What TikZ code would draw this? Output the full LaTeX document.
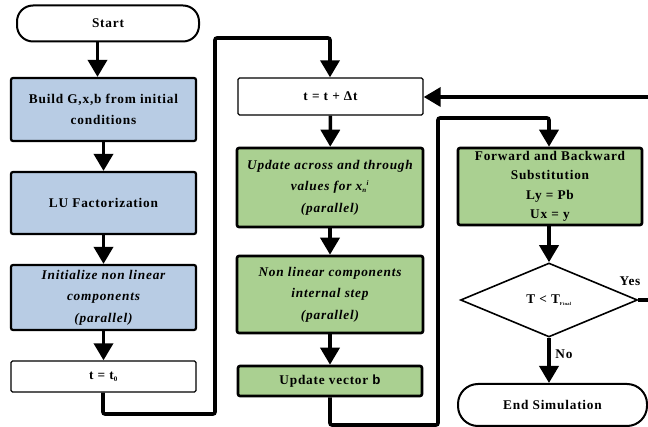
\documentclass[tikz,border=0pt]{standalone}
\usepackage{fontspec}
\setmainfont[LetterSpace=6]{Liberation Serif}
\newfontfamily\arialfont{Liberation Sans}
\usetikzlibrary{arrows.meta,shapes.geometric}
\definecolor{boxblue}{RGB}{184,204,228}
\definecolor{boxgreen}{RGB}{170,208,145}
\tikzset{
  base/.style={draw=black, align=center, inner sep=0pt, font=\fontsize{13.3}{21.5}\selectfont\bfseries},
  bluebox/.style={base, fill=boxblue, line width=2.2pt, rounded corners=2pt},
  greenbox/.style={base, fill=boxgreen, line width=2.6pt, rounded corners=2pt},
  whitebox/.style={base, fill=white, line width=1.4pt, rounded corners=1.5pt},
  term/.style={base, fill=white, line width=2pt, rounded corners=16pt},
  decide/.style={base, diamond, fill=white, line width=1.6pt},
  conn/.style={line width=3.6pt, -{Triangle[length=17pt,width=19pt]}},
  lbl/.style={font=\fontsize{13.3}{16}\selectfont\bfseries}
}
\begin{document}
\begin{tikzpicture}[x=1pt,y=-1pt]
\clip (0,0) rectangle (648,427);
\fill[white] (0,0) rectangle (648,427);
% left column
\node[term, minimum width=182pt, minimum height=36pt] (start) at (108,23.5) {Start};
\node[bluebox, minimum width=185pt, minimum height=63pt] (build) at (103.5,109.5) {Build G,x,b from initial\\conditions};
\node[bluebox, minimum width=185pt, minimum height=62pt] (lu) at (103.5,203) {LU Factorization};
\node[bluebox, minimum width=185pt, minimum height=65pt] (init) at (103.5,297.5) {\itshape Initialize non linear\\\itshape components\\\itshape (parallel)};
\node[whitebox, minimum width=185pt, minimum height=31pt] (tzero) at (103.5,376.5) {t = t\textsubscript{\fontsize{7}{7}\selectfont 0}};
% middle column
\node[whitebox, minimum width=185pt, minimum height=37pt] (tdt) at (330.5,96.5) {t = t + Δt};
\node[greenbox, minimum width=186pt, minimum height=79pt] (upd) at (330,187.5) {\itshape Update across and through\\\itshape values for x\textsubscript{\fontsize{7}{7}\selectfont n}\textsuperscript{\fontsize{7}{7}\selectfont i}\\\itshape (parallel)};
\node[greenbox, minimum width=186pt, minimum height=77pt] (nonlin) at (330,294.5) {\itshape Non linear components\\\itshape internal step\\\itshape (parallel)};
\node[greenbox, minimum width=184pt, minimum height=30pt] (vecb) at (330,381) {Update vector {\arialfont\bfseries b}};
% right column
\node[greenbox, minimum width=184pt, minimum height=77pt, font=\fontsize{13.3}{19.5}\selectfont\bfseries] (fb) at (550,186.5) {Forward and Backward\\Substitution\\Ly = Pb\\Ux = y};
\node[decide, minimum width=177pt, minimum height=74pt] (dec) at (549,300) {T < T\textsubscript{\fontsize{4.5}{5}\selectfont Final}};
\node[term, minimum width=189pt, minimum height=42pt, rounded corners=20pt] (endsim) at (552.5,405) {End Simulation};
% connectors
\draw[conn] (start.south -| build.north) ++(-6,0) coordinate (s1) -- (s1 |- build.north);
\draw[conn] (build) -- (lu);
\draw[conn] (lu) -- (init);
\draw[conn] (init) -- (tzero);
\coordinate (a1) at (103,414);
\coordinate (a2) at (215,414);
\coordinate (a3) at (215,38);
\coordinate (a4) at (330,38);
\draw[conn, rounded corners=2pt] (tzero.south -| a1) -- (a1) -- (a2) -- (a3) -- (a4) -- (a4 |- tdt.north);
\draw[conn] (tdt) -- (upd);
\draw[conn] (upd) -- (nonlin);
\draw[conn] (nonlin) -- (vecb);
\coordinate (b1) at (330,425);
\coordinate (b2) at (438,425);
\coordinate (b3) at (438,118);
\coordinate (b4) at (549,118);
\draw[conn, rounded corners=2pt] (vecb.south -| b1) -- (b1) -- (b2) -- (b3) -- (b4) -- (b4 |- fb.north);
\draw[conn] (fb.south -| dec.north) -- (dec.north);
\draw[conn] (dec.south) -- (dec.south |- endsim.north);
\coordinate (c1) at (654,300);
\coordinate (c2) at (654,97);
\draw[conn] (dec.east) -- (c1) -- (c2) -- (tdt.east |- c2);
\node[lbl] (yes) at (630,281) {Yes};
\node[lbl] (no) at (564,354) {No};
\end{tikzpicture}
\end{document}
